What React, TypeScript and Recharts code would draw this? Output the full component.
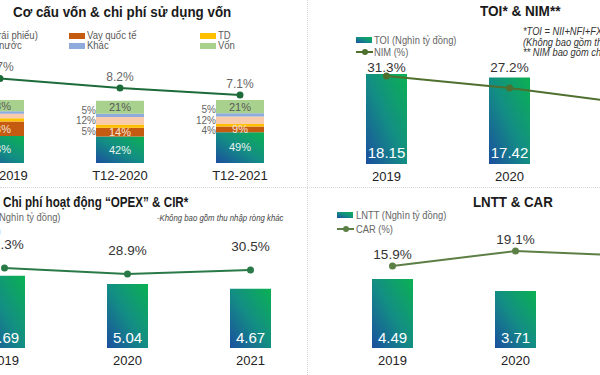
import {
  Bar,
  ComposedChart,
  LabelList,
  Line,
  XAxis,
  YAxis,
} from "recharts";

// Cơ cấu vốn (stacked %, bottom -> top) & chi phí vốn
const capPeriods = ["T12-2019", "T12-2020", "T12-2021"];
const bondShare = [43, 42, 49];
const intlLoanShare = [23, 14, 9];
const tdShare = [5, 5, 4];
const domesticLoanShare = [7, 12, 12];
const otherShare = [4, 5, 5];
const equityShare = [18, 21, 21];
const costOfFunds = [9.7, 8.2, 7.1];

// TOI & NIM
const years = ["2019", "2020", "2021"];
const toi = [18.15, 17.42, 20.1];
const nim = [31.3, 27.2, 21.7];

// OPEX & CIR
const opex = [5.69, 5.04, 4.67];
const cir = [31.3, 28.9, 30.5];

// LNTT & CAR
const lntt = [4.49, 3.71, 5.1];
const car = [15.9, 19.1, 18.0];

const capData = capPeriods.map((p, i) => ({
  period: p,
  bond: bondShare[i],
  intl: intlLoanShare[i],
  td: tdShare[i],
  domestic: domesticLoanShare[i],
  other: otherShare[i],
  equity: equityShare[i],
  cof: costOfFunds[i],
}));
const toiData = years.map((y, i) => ({ year: y, bar: toi[i], line: nim[i] }));
const opexData = years.map((y, i) => ({ year: y, bar: opex[i], line: cir[i] }));
const lnttData = years.map((y, i) => ({ year: y, bar: lntt[i], line: car[i] }));

const FONT = '"Liberation Sans", Arial, sans-serif';
const BLUE = "#1b4f9f";
const GREEN = "#0bb152";
const GRAD_CSS = `linear-gradient(to top right, ${BLUE}, #138e84 50%, ${GREEN})`;

function Grad({ id }: { id: string }) {
  return (
    <defs>
      <linearGradient id={id} x1="0" y1="1" x2="1" y2="0">
        <stop offset="0%" stopColor={BLUE} />
        <stop offset="50%" stopColor="#138e84" />
        <stop offset="100%" stopColor={GREEN} />
      </linearGradient>
    </defs>
  );
}

const pct = (v: any) => `${v}%`;

// small segments get their label on the left of the bar
const sideLabel = (dy: number) => (p: any) => {
  const { x, y, height, value, index } = p;
  if (index === 0) return null; // first bar sits off the left edge
  return (
    <text
      x={x}
      y={y + height / 2 + dy}
      textAnchor="end"
      dominantBaseline="central"
      fontSize={10}
      fill="#666"
    >
      {value}%
    </text>
  );
};

function Txt({ x, y, size, children, bold, italic, color = "#1a1a1a", sx = 1 }: any) {
  return (
    <div
      style={{
        position: "absolute",
        left: x,
        top: y - size / 2,
        fontSize: size,
        lineHeight: 1,
        whiteSpace: "nowrap",
        color,
        fontWeight: bold ? "bold" : "normal",
        fontStyle: italic ? "italic" : "normal",
        transform: `scaleX(${sx})`,
        transformOrigin: "left center",
      }}
    >
      {children}
    </div>
  );
}

function Swatch({ x, y, bg }: any) {
  return (
    <div
      style={{
        position: "absolute",
        left: x,
        top: y - 3,
        width: 16,
        height: 6,
        background: bg,
      }}
    />
  );
}

function LineSwatch({ x, y, color }: any) {
  return (
    <div style={{ position: "absolute", left: x, top: y - 3, width: 17, height: 6 }}>
      <div style={{ position: "absolute", left: 0, top: 2, width: 17, height: 2, background: color }} />
      <div style={{ position: "absolute", left: 6, top: 0, width: 6, height: 6, borderRadius: 3, background: color }} />
    </div>
  );
}

// legend entry anchored by its right edge (the column is cut by the left border)
function LegendItem({ right, y, label }: any) {
  return (
    <div
      style={{
        position: "absolute",
        right: 600 - right,
        top: y - 5,
        height: 10,
        lineHeight: "10px",
        fontSize: 10,
        color: "#595959",
        whiteSpace: "nowrap",
        transform: "scaleX(0.95)",
        transformOrigin: "right center",
      }}
    >
      {label}
    </div>
  );
}

const xTick = { fontSize: 13, fill: "#222" };
const LEG = 0.95;

function CapitalChart() {
  return (
    <div style={{ position: "absolute", left: -60, top: 0 }}>
      <ComposedChart width={360} height={190} data={capData} margin={{ top: 60, right: 0, bottom: 0, left: 0 }}>
        <Grad id="gCap" />
        <XAxis dataKey="period" axisLine={false} tickLine={false} height={27} tick={xTick} interval={0} />
        <YAxis yAxisId="bar" hide domain={[0, 163.5]} allowDataOverflow />
        <YAxis yAxisId="line" hide orientation="right" domain={[-3.59, 12.6]} allowDataOverflow />
        <Bar yAxisId="bar" dataKey="bond" stackId="s" fill="url(#gCap)" barSize={48} isAnimationActive={false}>
          <LabelList dataKey="bond" position="center" formatter={pct} fill="#e8f2ee" fontSize={11} />
        </Bar>
        <Bar yAxisId="bar" dataKey="intl" stackId="s" fill="#c55a11" barSize={48} isAnimationActive={false}>
          <LabelList dataKey="intl" position="center" formatter={pct} fill="#f4e3d7" fontSize={11} />
        </Bar>
        <Bar yAxisId="bar" dataKey="td" stackId="s" fill="#ffc000" barSize={48} isAnimationActive={false}>
          <LabelList dataKey="td" content={sideLabel(5)} />
        </Bar>
        <Bar yAxisId="bar" dataKey="domestic" stackId="s" fill="#f8cbad" barSize={48} isAnimationActive={false}>
          <LabelList dataKey="domestic" content={sideLabel(0)} />
        </Bar>
        <Bar yAxisId="bar" dataKey="other" stackId="s" fill="#8faadc" barSize={48} isAnimationActive={false}>
          <LabelList dataKey="other" content={sideLabel(-5)} />
        </Bar>
        <Bar yAxisId="bar" dataKey="equity" stackId="s" fill="#a9d18e" barSize={48} isAnimationActive={false}>
          <LabelList dataKey="equity" position="center" formatter={pct} fill="#5a5a5a" fontSize={11} />
        </Bar>
        <Line
          yAxisId="line"
          dataKey="cof"
          stroke="#1d6b3a"
          strokeWidth={2}
          dot={{ r: 2.5, fill: "#1d6b3a", stroke: "#1d6b3a" }}
          isAnimationActive={false}
        >
          <LabelList dataKey="cof" position="top" offset={7} formatter={pct} fill="#666" fontSize={12} />
        </Line>
      </ComposedChart>
    </div>
  );
}

function BarLineChart({ data, left, top, height, marginTop, barMax, lineDomain, lineColor, gid, labelOffset, fixedLabelY, barLabelOffset }: any) {
  const fixedLabel = (p: any) => (
    <text x={p.x} y={fixedLabelY} textAnchor="middle" fontSize={13.5} fill="#333">
      {p.value}%
    </text>
  );
  return (
    <div style={{ position: "absolute", left, top }}>
      <ComposedChart width={369} height={height} data={data} margin={{ top: marginTop, right: 0, bottom: 0, left: 0 }}>
        <Grad id={gid} />
        <XAxis dataKey="year" axisLine={false} tickLine={false} height={27} tick={xTick} interval={0} />
        <YAxis yAxisId="bar" hide domain={[0, barMax]} allowDataOverflow />
        <YAxis yAxisId="line" hide orientation="right" domain={lineDomain} allowDataOverflow />
        <Bar yAxisId="bar" dataKey="bar" fill={`url(#${gid})`} barSize={41} isAnimationActive={false}>
          <LabelList dataKey="bar" position="insideBottom" offset={barLabelOffset} fill="#fff" fontSize={15} />
        </Bar>
        <Line
          yAxisId="line"
          dataKey="line"
          stroke={lineColor}
          strokeWidth={2}
          dot={{ r: 2.5, fill: lineColor, stroke: lineColor }}
          isAnimationActive={false}
        >
          {fixedLabelY ? (
            <LabelList dataKey="line" content={fixedLabel} />
          ) : (
            <LabelList dataKey="line" position="top" offset={labelOffset} formatter={pct} fill="#333" fontSize={13.5} />
          )}
        </Line>
      </ComposedChart>
    </div>
  );
}

export default function App() {
  return (
    <div
      style={{
        position: "fixed",
        left: 0,
        top: 0,
        width: 600,
        height: 375,
        overflow: "hidden",
        background: "#fff",
        fontFamily: FONT,
      }}
    >
      {/* dotted dividers */}
      <div style={{ position: "absolute", left: 307, top: 0, width: 0, height: 375, borderLeft: "1px dotted #d6d6d6" }} />
      <div style={{ position: "absolute", left: 0, top: 187, width: 600, height: 0, borderTop: "1px dotted #d6d6d6" }} />

      {/* top-left */}
      <Txt x={13} y={12} size={14} bold sx={0.955}>Cơ cấu vốn &amp; chi phí sử dụng vốn</Txt>
      <LegendItem right={38} y={36} label="Phát hành GTCG (Trái phiếu)" />
      <LegendItem right={22} y={46} label="Vay trong nước" />
      <Swatch x={69} y={36} bg="#c55a11" />
      <Txt x={87} y={36} size={10} color="#595959" sx={LEG}>Vay quốc tế</Txt>
      <Swatch x={69} y={46} bg="#8faadc" />
      <Txt x={87} y={46} size={10} color="#595959" sx={LEG}>Khác</Txt>
      <Swatch x={200} y={36} bg="#ffc000" />
      <Txt x={218} y={36} size={10} color="#595959" sx={LEG}>TD</Txt>
      <Swatch x={200} y={46} bg="#a9d18e" />
      <Txt x={218} y={46} size={10} color="#595959" sx={LEG}>Vốn</Txt>
      <CapitalChart />

      {/* top-right */}
      <Txt x={480} y={11} size={14} bold sx={0.97}>TOI* &amp; NIM**</Txt>
      <Txt x={523} y={32} size={10} italic color="#333" sx={0.93}>*TOI = NII+NFI+FX+Chứng khoán</Txt>
      <Txt x={523} y={43} size={10} italic color="#333" sx={0.93}>(Không bao gồm thu nhập ròng khác)</Txt>
      <Txt x={523} y={53} size={10} italic color="#333" sx={0.93}>** NIM bao gồm chi phí vốn</Txt>
      <Swatch x={356} y={40} bg={GRAD_CSS} />
      <Txt x={374} y={40} size={11} color="#666" sx={0.85}>TOI (Nghìn tỷ đồng)</Txt>
      <LineSwatch x={356} y={52} color="#4f6f2f" />
      <Txt x={374} y={52} size={11} color="#666" sx={0.85}>NIM (%)</Txt>
      <BarLineChart
        data={toiData}
        left={324.5}
        top={0}
        height={191}
        marginTop={60}
        barMax={20.97}
        lineDomain={[1.23, 36.77]}
        lineColor="#4f6f2f"
        gid="gToi"
        fixedLabelY={72}
        barLabelOffset={6}
      />

      {/* bottom-left */}
      <Txt x={3} y={202} size={14} bold sx={0.83}>Chi phí hoạt động “OPEX” &amp; CIR*</Txt>
      <Txt x={157} y={218} size={9.5} italic color="#444" sx={0.82}>-Không bao gồm thu nhập ròng khác</Txt>
      <div
        style={{
          position: "absolute",
          right: 540,
          top: 211,
          fontSize: 11,
          color: "#666",
          lineHeight: "12px",
          transform: "scaleX(0.85)",
          transformOrigin: "right center",
        }}
      >
        <div style={{ whiteSpace: "nowrap" }}>OPEX (Nghìn tỷ đồng)</div>
        <div style={{ whiteSpace: "nowrap", marginTop: 2 }}>CIR (%)</div>
      </div>
      <BarLineChart
        data={opexData}
        left={-57.25}
        top={187}
        height={188}
        marginTop={53}
        barMax={8.5}
        lineDomain={[-0.7, 42.5]}
        lineColor="#2a7a48"
        gid="gOpex"
        labelOffset={19}
        barLabelOffset={5}
      />

      {/* bottom-right */}
      <Txt x={473} y={202} size={14} bold sx={0.95}>LNTT &amp; CAR</Txt>
      <Swatch x={337} y={215} bg={GRAD_CSS} />
      <Txt x={356} y={215} size={11} color="#666" sx={0.85}>LNTT (Nghìn tỷ đồng)</Txt>
      <LineSwatch x={337} y={229} color="#5c7f45" />
      <Txt x={356} y={229} size={11} color="#666" sx={0.85}>CAR (%)</Txt>
      <BarLineChart
        data={lnttData}
        left={330.5}
        top={187}
        height={188}
        marginTop={53}
        barMax={7.03}
        lineDomain={[-1.59, 21.45]}
        lineColor="#5c7f45"
        gid="gLntt"
        labelOffset={7}
        barLabelOffset={5}
      />
    </div>
  );
}
